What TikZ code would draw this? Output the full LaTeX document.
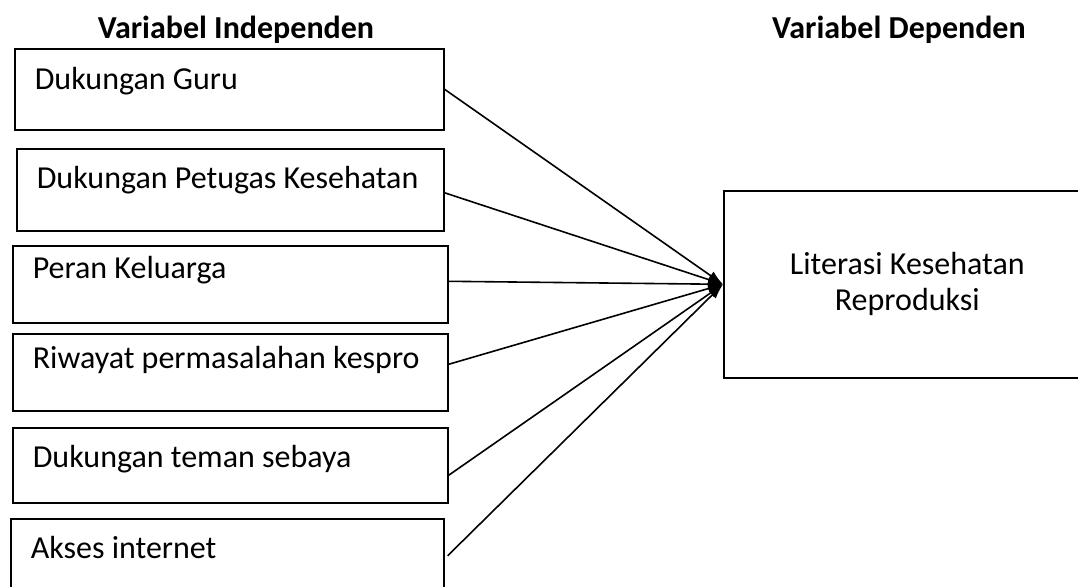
\documentclass[tikz,border=0pt]{standalone}
\usepackage{fontspec}
\setmainfont{Carlito}
\usetikzlibrary{arrows.meta}

\tikzset{
  varbox/.style={draw, line width=1.6pt, anchor=north west, align=flush left,
    inner ysep=0pt, inner xsep=20pt, font=\fontsize{32}{36}\selectfont},
  depbox/.style={draw, line width=1.6pt, anchor=north west, align=center,
    inner sep=0pt, font=\fontsize{32}{36}\selectfont},
  heading/.style={anchor=base, font=\fontsize{32}{36}\selectfont\bfseries},
  influence/.style={line width=1.6pt, -{Latex[length=15pt,width=10pt]}}
}

\begin{document}
\begin{tikzpicture}[x=1pt, y=-1pt]
  \useasboundingbox (0,0) rectangle (1078,586);
  \clip (0,0) rectangle (1078,586);
  \node[heading] (indep) at (236,38) {Variabel Independen};
  \node[heading] (dep) at (899,38) {Variabel Dependen};
  \node[varbox, text width=389pt, text height=41pt, text depth=40pt] (guru) at (14,48) {Dukungan Guru};
  \node[varbox, text width=387pt, text height=40pt, text depth=42pt] (petugas) at (16,148) {Dukungan Petugas Kesehatan};
  \node[varbox, text width=395pt, text height=33pt, text depth=44pt] (keluarga) at (12,245) {Peran Keluarga};
  \node[varbox, text width=395pt, text height=35pt, text depth=42pt] (riwayat) at (12,333) {Riwayat permasalahan kespro};
  \node[varbox, text width=395pt, text height=40pt, text depth=35pt] (teman) at (12,427) {Dukungan teman sebaya};
  \node[varbox, text width=393pt, text height=40pt, text depth=34pt] (internet) at (10,518) {Akses internet};
  \node[depbox, minimum width=367pt, minimum height=187pt] (literasi) at (723,190) {Literasi Kesehatan\\Reproduksi};
  \draw[influence] (guru.east) -- (literasi.west);
  \draw[influence] ([yshift=-3pt]petugas.east) -- (literasi.west);
  \draw[influence] ([yshift=3pt]keluarga.east) -- (literasi.west);
  \draw[influence] ([yshift=8pt]riwayat.east) -- (literasi.west);
  \draw[influence] ([yshift=-10pt]teman.east) -- (literasi.west);
  \draw[influence] ([xshift=3pt]internet.east) -- (literasi.west);
\end{tikzpicture}
\end{document}
